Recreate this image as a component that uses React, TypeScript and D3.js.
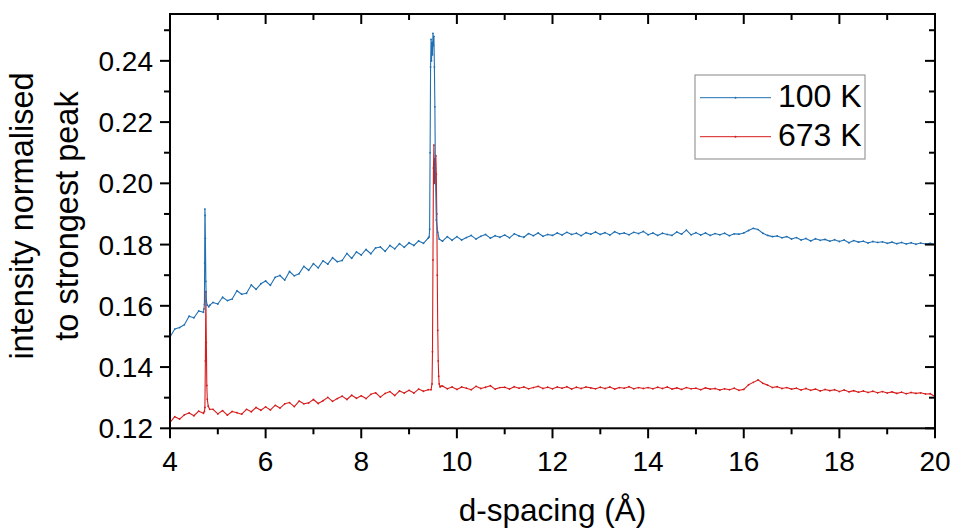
import React from "react";
import * as d3 from "d3";

// ---------- data ----------
const X_START = 4.0;
const X_STEP = 0.1;

// baseline, 100 K, d = 4.0 ... 20.0 step 0.1
const blueBase = [
  0.1498, 0.1524, 0.1529, 0.1538, 0.1566, 0.1561, 0.1583, 0.1579, 0.1596, 0.1611,
  0.1606, 0.1628, 0.1617, 0.1622, 0.1649, 0.1638, 0.1641, 0.1668, 0.1654, 0.1672,
  0.1681, 0.1667, 0.1693, 0.1699, 0.1684, 0.1712, 0.1698, 0.1705, 0.1729, 0.1716,
  0.1738, 0.1724, 0.1747, 0.1736, 0.1757, 0.1744, 0.1748, 0.1771, 0.1755, 0.1776,
  0.1766, 0.1784, 0.1770, 0.1789, 0.1792, 0.1778, 0.1797, 0.1786, 0.1803, 0.1791,
  0.1806, 0.1797, 0.1812, 0.1804, 0.1821, 0.1820, 0.1819, 0.1811, 0.1826, 0.1814,
  0.1826, 0.1815, 0.1823, 0.1830, 0.1818, 0.1827, 0.1833, 0.1821, 0.1829, 0.1824,
  0.1831, 0.1822, 0.1835, 0.1828, 0.1824, 0.1836, 0.1829, 0.1838, 0.1827, 0.1833,
  0.1830, 0.1838, 0.1831, 0.1840, 0.1833, 0.1837, 0.1829, 0.1839, 0.1834, 0.1841,
  0.1833, 0.1839, 0.1831, 0.1842, 0.1835, 0.1838, 0.1832, 0.1840, 0.1836, 0.1843,
  0.1832, 0.1838, 0.1830, 0.1837, 0.1833, 0.1830, 0.1841, 0.1834, 0.1847, 0.1832,
  0.1839, 0.1831, 0.1838, 0.1830, 0.1836, 0.1832, 0.1837, 0.1829, 0.1835, 0.1834,
  0.1838, 0.1846, 0.1853, 0.1849, 0.1837, 0.1830, 0.1826, 0.1828, 0.1822, 0.1826,
  0.1818, 0.1823, 0.1815, 0.1820, 0.1812, 0.1819, 0.1814, 0.1817, 0.1811, 0.1816,
  0.1810, 0.1815, 0.1806, 0.1813, 0.1808, 0.1811, 0.1805, 0.1810, 0.1807, 0.1809,
  0.1804, 0.1808, 0.1803, 0.1807, 0.1802, 0.1806, 0.1801, 0.1805, 0.1802, 0.1804,
  0.1801,
];

// baseline, 673 K
const redBase = [
  0.1219, 0.1238, 0.1230, 0.1244, 0.1250, 0.1241, 0.1256, 0.1249, 0.1260, 0.1262,
  0.1247, 0.1258, 0.1243, 0.1255, 0.1251, 0.1246, 0.1262, 0.1254, 0.1268, 0.1259,
  0.1270, 0.1260, 0.1275, 0.1266, 0.1280, 0.1284, 0.1271, 0.1289, 0.1280, 0.1283,
  0.1294, 0.1281, 0.1290, 0.1301, 0.1288, 0.1297, 0.1305, 0.1294, 0.1308, 0.1298,
  0.1306, 0.1297, 0.1311, 0.1316, 0.1302, 0.1314, 0.1320, 0.1307, 0.1322, 0.1315,
  0.1324, 0.1315, 0.1328, 0.1321, 0.1326, 0.1330, 0.1332, 0.1338, 0.1329, 0.1335,
  0.1327, 0.1335, 0.1331, 0.1326, 0.1337, 0.1330, 0.1334, 0.1339, 0.1328, 0.1333,
  0.1334, 0.1328, 0.1336, 0.1331, 0.1335, 0.1329, 0.1333, 0.1337, 0.1330, 0.1334,
  0.1329, 0.1335, 0.1331, 0.1336, 0.1328, 0.1334, 0.1330, 0.1335, 0.1332, 0.1329,
  0.1334, 0.1330, 0.1335, 0.1328, 0.1333, 0.1331, 0.1336, 0.1329, 0.1333, 0.1330,
  0.1333, 0.1329, 0.1334, 0.1330, 0.1335, 0.1328, 0.1332, 0.1327, 0.1333, 0.1329,
  0.1331, 0.1326, 0.1332, 0.1328, 0.1330, 0.1325, 0.1329, 0.1326, 0.1331, 0.1324,
  0.1327, 0.1342, 0.1350, 0.1358, 0.1347, 0.1341, 0.1333, 0.1336, 0.1330, 0.1333,
  0.1328, 0.1331, 0.1325, 0.1330, 0.1324, 0.1328, 0.1322, 0.1327, 0.1323, 0.1326,
  0.1320, 0.1325, 0.1319, 0.1323, 0.1318, 0.1322, 0.1317, 0.1321, 0.1316, 0.1320,
  0.1315, 0.1319, 0.1314, 0.1318, 0.1313, 0.1317, 0.1314, 0.1316, 0.1312, 0.1313,
  0.1304,
];

// peak details (replace baseline points inside their windows)
const bluePeak1X = [4.71, 4.72, 4.725, 4.73, 4.735, 4.74, 4.75, 4.76, 4.78, 4.81, 4.84];
const bluePeak1Y = [0.1590, 0.1605, 0.1740, 0.1916, 0.1895, 0.1820, 0.1680, 0.1615, 0.1602, 0.1597, 0.1603];
const bluePeak2X = [9.42, 9.43, 9.44, 9.45, 9.46, 9.47, 9.48, 9.49, 9.50, 9.51, 9.52, 9.53, 9.54, 9.55, 9.57, 9.60, 9.63];
const bluePeak2Y = [0.1825, 0.1850, 0.2100, 0.2380, 0.2470, 0.2400, 0.2460, 0.2420, 0.2490, 0.2450, 0.2480, 0.2380, 0.2250, 0.2050, 0.1880, 0.1840, 0.1818];

const redPeak1X = [4.72, 4.73, 4.74, 4.75, 4.76, 4.77, 4.78, 4.80, 4.83];
const redPeak1Y = [0.1255, 0.1268, 0.1420, 0.1646, 0.1480, 0.1340, 0.1295, 0.1272, 0.1262];
const redPeak2X = [9.46, 9.48, 9.49, 9.50, 9.51, 9.52, 9.53, 9.54, 9.55, 9.56, 9.57, 9.58, 9.59, 9.60, 9.61, 9.62, 9.63, 9.65, 9.67];
const redPeak2Y = [0.1326, 0.1345, 0.1450, 0.1750, 0.2050, 0.2125, 0.2000, 0.2080, 0.2060, 0.2090, 0.2030, 0.1900, 0.1700, 0.1520, 0.1420, 0.1370, 0.1345, 0.1335, 0.1338];

const seriesNames = ["100 K", "673 K"];
const seriesColors = ["#1f6fb2", "#d71c1c"];

const xTicks = [4, 6, 8, 10, 12, 14, 16, 18, 20];
const xMinor = [5, 7, 9, 11, 13, 15, 17, 19];
const yTicks = [0.12, 0.14, 0.16, 0.18, 0.20, 0.22, 0.24];
const yMinor = [0.13, 0.15, 0.17, 0.19, 0.21, 0.23, 0.25];

// ---------- layout ----------
const W = 955, H = 529;
const L = 170, R = 935, T = 14, B = 428.3;
const FONT = "'Liberation Sans', Arial, Helvetica, sans-serif";

type Pt = [number, number];

function build(base: number[], peaks: [number[], number[]][]): Pt[] {
  const pts: Pt[] = base.map((v, i) => [+(X_START + i * X_STEP).toFixed(2), v]);
  let out = pts;
  peaks.forEach(([px, py]) => {
    const lo = px[0], hi = px[px.length - 1];
    out = out.filter(([x]) => x < lo || x > hi);
    px.forEach((x, i) => out.push([x, py[i]]));
  });
  out.sort((a, b) => a[0] - b[0]);
  return out;
}

export default function App() {
  const x = d3.scaleLinear().domain([4, 20]).range([L, R]);
  const y = d3.scaleLinear().domain([0.12, 0.2553]).range([B, T]);

  const blue = build(blueBase, [[bluePeak1X, bluePeak1Y], [bluePeak2X, bluePeak2Y]]);
  const red = build(redBase, [[redPeak1X, redPeak1Y], [redPeak2X, redPeak2Y]]);
  const line = d3.line<Pt>().x((d) => x(d[0])).y((d) => y(d[1]));
  const series = [blue, red];

  const major = 10, minor = 6;

  return (
    <svg width={W} height={H} style={{ position: "absolute", left: 0, top: 0, background: "#fff" }} fontFamily={FONT}>
      <defs>
        <clipPath id="plot">
          <rect x={L} y={T} width={R - L} height={B - T} />
        </clipPath>
      </defs>

      {/* data */}
      <g clipPath="url(#plot)">
        {[1, 0].map((si) => (
          <g key={si}>
            <path d={line(series[si]) || ""} fill="none" stroke={seriesColors[si]} strokeWidth={1.1} strokeLinejoin="round" />
            {series[si].map((d, i) => (
              <circle key={i} cx={x(d[0])} cy={y(d[1])} r={0.9} fill={seriesColors[si]} />
            ))}
          </g>
        ))}
      </g>

      {/* frame */}
      <rect x={L} y={T} width={R - L} height={B - T} fill="none" stroke="#000" strokeWidth={2} />

      {/* x ticks */}
      {xTicks.map((t) => (
        <g key={"xt" + t}>
          <line x1={x(t)} x2={x(t)} y1={B} y2={B + major} stroke="#000" strokeWidth={2} />
          <line x1={x(t)} x2={x(t)} y1={T} y2={T + major} stroke="#000" strokeWidth={2} />
          <text x={x(t)} y={471} textAnchor="middle" fontSize={28} fill="#000">{t}</text>
        </g>
      ))}
      {xMinor.map((t) => (
        <g key={"xm" + t}>
          <line x1={x(t)} x2={x(t)} y1={B} y2={B + minor} stroke="#000" strokeWidth={2} />
          <line x1={x(t)} x2={x(t)} y1={T} y2={T + minor} stroke="#000" strokeWidth={2} />
        </g>
      ))}

      {/* y ticks */}
      {yTicks.map((t) => (
        <g key={"yt" + t}>
          <line x1={L - major} x2={L} y1={y(t)} y2={y(t)} stroke="#000" strokeWidth={2} />
          <line x1={R - major} x2={R} y1={y(t)} y2={y(t)} stroke="#000" strokeWidth={2} />
          <text x={153} y={y(t) + 10} textAnchor="end" fontSize={28} fill="#000">{t.toFixed(2)}</text>
        </g>
      ))}
      {yMinor.map((t) => (
        <g key={"ym" + t}>
          <line x1={L - minor} x2={L} y1={y(t)} y2={y(t)} stroke="#000" strokeWidth={2} />
          <line x1={R - minor} x2={R} y1={y(t)} y2={y(t)} stroke="#000" strokeWidth={2} />
        </g>
      ))}

      {/* axis titles */}
      <text x={(L + R) / 2} y={521} textAnchor="middle" fontSize={31.5} fill="#000">d-spacing (Å)</text>
      <text transform="translate(33,216) rotate(-90)" textAnchor="middle" fontSize={32.5} fill="#000">intensity normalised</text>
      <text transform="translate(78,216) rotate(-90)" textAnchor="middle" fontSize={32.5} fill="#000">to strongest peak</text>

      {/* legend */}
      <rect x={695} y={75} width={170} height={84} fill="#fff" stroke="#999" strokeWidth={1.2} />
      {seriesNames.map((n, i) => {
        const ly = 97.7 + i * 39;
        return (
          <g key={n}>
            <line x1={700} x2={771} y1={ly} y2={ly} stroke={seriesColors[i]} strokeWidth={1} />
            <circle cx={735.5} cy={ly} r={1} fill={seriesColors[i]} />
            <text x={778} y={ly + 9.5} fontSize={32} fill="#000">{n}</text>
          </g>
        );
      })}
    </svg>
  );
}
